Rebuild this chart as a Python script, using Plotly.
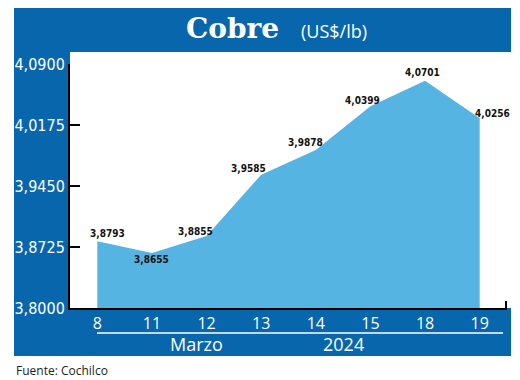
import plotly.graph_objects as go

# ---- data ----
dias = ["8", "11", "12", "13", "14", "15", "18", "19"]
precios = [3.8793, 3.8655, 3.8855, 3.9585, 3.9878, 4.0399, 4.0701, 4.0256]
etiquetas = ["3,8793", "3,8655", "3,8855", "3,9585", "3,9878", "4,0399", "4,0701", "4,0256"]
y_ticks = [3.8000, 3.8725, 3.9450, 4.0175, 4.0900]
y_ticktext = ["3,8000", "3,8725", "3,9450", "4,0175", "4,0900"]
mes, anio = "Marzo", "2024"

# ---- styling / label offsets (pixels) ----
label_dx = [10, 0, -11, -13, -10, -8, -3, 13]
label_dy = [8, -7, 5, 6, 7, 6, 8, 5]

W, H = 520, 380
L, R, T, B = 70, 13, 64, 72
PW, PH = W - L - R, H - T - B
BLUE = "#0866AD"
AREA = "#56B4E2"
COND = "DejaVu Sans Condensed, Liberation Serif"
SANS = "Open Sans, Noto Sans, sans-serif"


def px(x):
    return (x - L) / PW


def py(y):
    return (H - B - y) / PH


fig = go.Figure()
fig.add_trace(go.Scatter(
    x=dias, y=precios, mode="lines", fill="tozeroy",
    line=dict(color=AREA, width=0), fillcolor=AREA, hoverinfo="skip",
))

shapes = [
    dict(type="rect", xref="paper", yref="paper", x0=px(14), x1=px(511), y0=py(52), y1=py(8),
         fillcolor=BLUE, line=dict(width=0), layer="below"),
    dict(type="rect", xref="paper", yref="paper", x0=px(14), x1=px(70), y0=py(356), y1=py(8),
         fillcolor=BLUE, line=dict(width=0), layer="below"),
    dict(type="rect", xref="paper", yref="paper", x0=px(14), x1=px(511), y0=py(356), y1=py(308),
         fillcolor=BLUE, line=dict(width=0), layer="below"),
    dict(type="line", xref="paper", yref="paper", x0=px(97), x1=px(503), y0=py(333), y1=py(333),
         line=dict(color="white", width=1.5)),
    dict(type="line", xref="paper", yref="paper", x0=px(506), x1=px(506), y0=py(308), y1=py(301),
         line=dict(color="black", width=2)),
]

annotations = []
for i, (v, t, dx, dy) in enumerate(zip(precios, etiquetas, label_dx, label_dy)):
    annotations.append(dict(
        x=i, y=v, xref="x", yref="y", text="<b>" + t + "</b>", showarrow=False,
        xanchor="center", yanchor="middle", xshift=dx, yshift=dy,
        font=dict(family=COND, size=10, color="#111111"),
    ))

annotations += [
    dict(xref="paper", yref="paper", x=px(232), y=py(28), text="<b>Cobre</b>", showarrow=False,
         xanchor="center", yanchor="middle",
         font=dict(family="DejaVu Serif, serif", size=28, color="white")),
    dict(xref="paper", yref="paper", x=px(334), y=py(31), text="(US$/lb)", showarrow=False,
         xanchor="center", yanchor="middle",
         font=dict(family=SANS, size=18, color="white")),
    dict(xref="paper", yref="paper", x=px(196), y=py(344), text=mes, showarrow=False,
         xanchor="center", yanchor="middle",
         font=dict(family=SANS, size=18, color="white")),
    dict(xref="paper", yref="paper", x=px(343), y=py(344), text=anio, showarrow=False,
         xanchor="center", yanchor="middle",
         font=dict(family=SANS, size=18, color="white")),
    dict(xref="paper", yref="paper", x=px(14), y=py(370), text="Fuente: Cochilco", showarrow=False,
         xanchor="left", yanchor="middle",
         font=dict(family=SANS, size=12, color="#222222")),
]

fig.update_layout(
    width=W, height=H,
    margin=dict(l=L, r=R, t=T, b=B, pad=0),
    paper_bgcolor="white", plot_bgcolor="white",
    showlegend=False,
    shapes=shapes,
    annotations=annotations,
    xaxis=dict(type="category", categoryorder="array", categoryarray=dias,
               range=[-0.5, len(dias) - 0.5], showgrid=False, zeroline=False,
               showline=True, linecolor="black", linewidth=2, ticks="",
               tickfont=dict(family=SANS, size=16, color="white"), fixedrange=True),
    yaxis=dict(range=[3.8, 4.09], tickvals=y_ticks, ticktext=y_ticktext,
               showgrid=False, zeroline=False, showline=True, linecolor="black", linewidth=2,
               ticks="inside", ticklen=10, tickwidth=2, tickcolor="black",
               tickfont=dict(family=COND, size=16, color="white"), fixedrange=True),
)

fig.write_html("out.html", config={"displayModeBar": False},
               post_script="document.body.style.margin='0';")
